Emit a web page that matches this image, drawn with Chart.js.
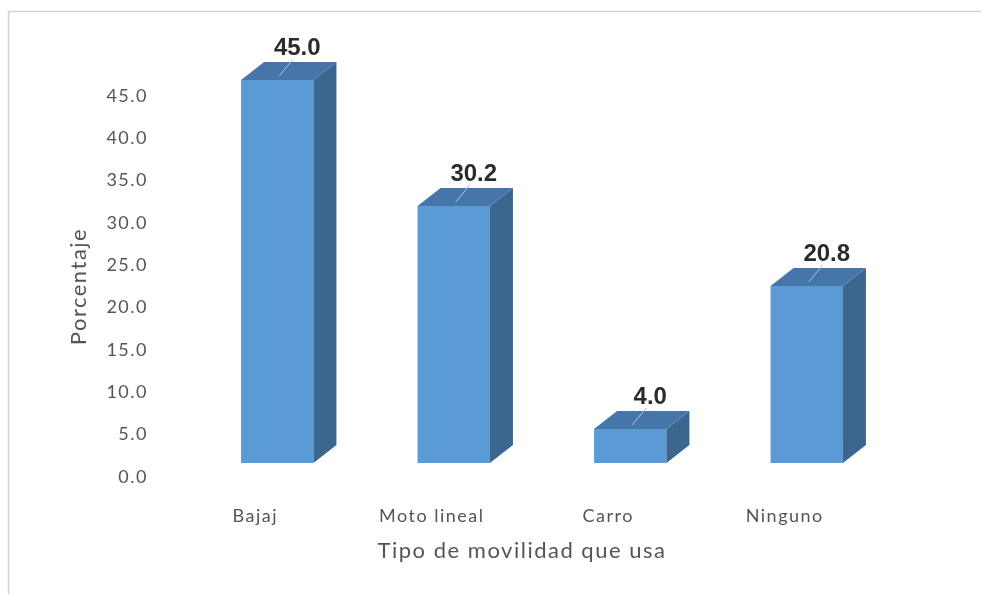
<!DOCTYPE html>
<html>
<head>
<meta charset="utf-8">
<title>Tipo de movilidad que usa</title>
<script src="https://cdn.jsdelivr.net/npm/chart.js@4.4.0/dist/chart.umd.min.js"></script>
<style>
  html, body { margin: 0; padding: 0; background: #fff; }
  #wrap { width: 981px; height: 594px; }
</style>
</head>
<body>
<div id="wrap"><canvas id="movilidadChart" width="981" height="594"></canvas></div>
<script>
const categories = ['Bajaj', 'Moto lineal', 'Carro', 'Ninguno'];
const percentages = [45.0, 30.2, 4.0, 20.8];
const yTicks = [0, 5, 10, 15, 20, 25, 30, 35, 40, 45];
const xTitle = 'Tipo de movilidad que usa';

const FRONT = '#5b9bd5';
const TOP = '#4675aa';
const SIDE = '#3b6690';
const TEXT = '#555555';
const DEPTH_X = 23;
const DEPTH_Y = -18;

// white background, thin grey frame, and the slightly spaced lettering
const framePlugin = {
  id: 'frame',
  beforeDraw(chart) {
    const ctx = chart.ctx;
    ctx.save();
    ctx.fillStyle = '#fff';
    ctx.fillRect(0, 0, chart.width, chart.height);
    ctx.strokeStyle = '#d2d2d2';
    ctx.lineWidth = 1.5;
    ctx.beginPath();
    ctx.moveTo(8.5, chart.height);
    ctx.lineTo(8.5, 11.5);
    ctx.lineTo(chart.width, 11.5);
    ctx.stroke();
    ctx.restore();
    ctx.letterSpacing = '1.5px';
  },
  // x axis title, sitting a bit left of the plot centre
  afterDraw(chart) {
    const ctx = chart.ctx;
    const xs = chart.scales.x;
    ctx.save();
    ctx.letterSpacing = '1.5px';
    ctx.fillStyle = TEXT;
    ctx.font = '22px Lato, sans-serif';
    ctx.textAlign = 'center';
    ctx.textBaseline = 'middle';
    ctx.fillText(xTitle, (xs.left + xs.right) / 2 - 20, xs.bottom - 17);
    ctx.restore();
  }
};

// side and top faces of each bar, then the value labels
const boxPlugin = {
  id: 'box3d',
  afterDatasetsDraw(chart) {
    const ctx = chart.ctx;
    const meta = chart.getDatasetMeta(0);
    ctx.save();
    ctx.letterSpacing = '0px';
    meta.data.forEach((bar, i) => {
      const { x, y, base, width } = bar.getProps(['x', 'y', 'base', 'width'], true);
      const l = x - width / 2;
      const r = x + width / 2;

      ctx.fillStyle = SIDE;
      ctx.beginPath();
      ctx.moveTo(r, y);
      ctx.lineTo(r + DEPTH_X, y + DEPTH_Y);
      ctx.lineTo(r + DEPTH_X, base + DEPTH_Y);
      ctx.lineTo(r, base);
      ctx.closePath();
      ctx.fill();

      ctx.fillStyle = TOP;
      ctx.beginPath();
      ctx.moveTo(l, y);
      ctx.lineTo(l + DEPTH_X, y + DEPTH_Y);
      ctx.lineTo(r + DEPTH_X, y + DEPTH_Y);
      ctx.lineTo(r, y);
      ctx.closePath();
      ctx.fill();

      // value label with a short leader line down to the top face
      const lx = x + 20;
      const ly = y + DEPTH_Y - 14;
      ctx.strokeStyle = '#a8c6e6';
      ctx.lineWidth = 1;
      ctx.beginPath();
      ctx.moveTo(lx - 4, ly + 11);
      ctx.lineTo(x + 2, y - 4);
      ctx.stroke();

      ctx.fillStyle = '#2b2b2b';
      ctx.font = 'bold 24px "Liberation Sans", Arial, sans-serif';
      ctx.textAlign = 'center';
      ctx.textBaseline = 'middle';
      ctx.fillText(percentages[i].toFixed(1), lx, ly);
    });
    ctx.restore();
  }
};

new Chart(document.getElementById('movilidadChart'), {
  type: 'bar',
  data: {
    labels: categories,
    datasets: [{
      label: 'Porcentaje',
      data: percentages,
      backgroundColor: FRONT,
      borderWidth: 0,
      barPercentage: 0.41,
      categoryPercentage: 1,
      yAxisID: 'yb',
      clip: false
    }]
  },
  options: {
    responsive: false,
    animation: false,
    layout: { padding: { left: 62, right: 86, top: 96, bottom: 26 } },
    plugins: {
      legend: { display: false },
      tooltip: { enabled: false }
    },
    scales: {
      x: {
        grid: { display: false },
        border: { display: false },
        ticks: {
          color: TEXT,
          font: { family: 'Lato', size: 18 },
          padding: 20,
          labelOffset: -22,
          maxRotation: 0
        },
        afterFit: s => { s.height = 91; }
      },
      y: {
        position: 'left',
        min: 0,
        max: 45,
        grid: { display: false, drawTicks: false },
        border: { display: false },
        afterBuildTicks: s => { s.ticks = yTicks.map(v => ({ value: v })); },
        ticks: {
          color: TEXT,
          font: { family: 'Lato', size: 18 },
          padding: 41,
          callback: v => v.toFixed(1)
        },
        title: {
          display: true,
          text: 'Porcentaje',
          color: TEXT,
          font: { family: 'Lato', size: 22 },
          padding: { top: 4, bottom: 4 }
        },
        afterFit: s => { s.width = 127; }
      },
      // bars sit on the front plane, a little above the printed axis
      yb: {
        display: false,
        min: -1.645,
        max: 43.12
      }
    }
  },
  plugins: [framePlugin, boxPlugin]
});
</script>
</body>
</html>
